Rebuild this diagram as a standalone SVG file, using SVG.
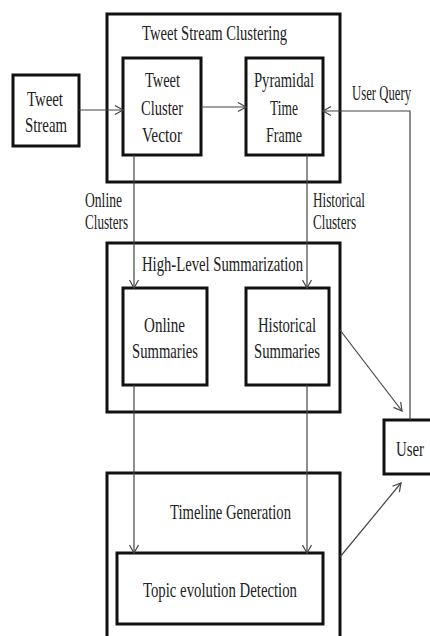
<svg xmlns="http://www.w3.org/2000/svg" width="430" height="636" viewBox="0 0 430 636">
<style>
.box{fill:none;stroke:#111;stroke-width:3}
.t{font-family:"Liberation Serif","Times New Roman",serif;font-size:21px;fill:#222}
.c{fill:none;stroke:#444;stroke-width:1.2}
</style>
<defs>
<marker id="ah" markerUnits="userSpaceOnUse" markerWidth="12" markerHeight="12" refX="9" refY="5" orient="auto" viewBox="0 0 12 10">
<path d="M1,0.5 L9,5 L1,9.5" fill="none" stroke="#444" stroke-width="1.2"/>
</marker>
</defs>
<rect width="430" height="636" fill="#fff"/>
<g id="tweet-stream-clustering">
<rect class="box" x="107" y="14" width="233" height="168"/>
<text class="t" x="142" y="40" textLength="145" lengthAdjust="spacingAndGlyphs">Tweet Stream Clustering</text>
</g>
<g id="tweet-stream">
<rect class="box" x="13" y="75" width="66" height="71"/>
<text class="t" x="27" y="106" textLength="36" lengthAdjust="spacingAndGlyphs">Tweet</text>
<text class="t" x="25" y="132" textLength="42" lengthAdjust="spacingAndGlyphs">Stream</text>
</g>
<g id="tweet-cluster-vector">
<rect class="box" x="123" y="58" width="78" height="97"/>
<text class="t" x="145" y="87" textLength="35" lengthAdjust="spacingAndGlyphs">Tweet</text>
<text class="t" x="141" y="115" textLength="42" lengthAdjust="spacingAndGlyphs">Cluster</text>
<text class="t" x="142" y="142" textLength="40" lengthAdjust="spacingAndGlyphs">Vector</text>
</g>
<g id="pyramidal-time-frame">
<rect class="box" x="246" y="58" width="77" height="97"/>
<text class="t" x="254" y="87" textLength="60" lengthAdjust="spacingAndGlyphs">Pyramidal</text>
<text class="t" x="270" y="115" textLength="28" lengthAdjust="spacingAndGlyphs">Time</text>
<text class="t" x="266" y="142" textLength="36" lengthAdjust="spacingAndGlyphs">Frame</text>
</g>
<g id="high-level-summarization">
<rect class="box" x="107" y="243" width="233" height="169"/>
<text class="t" x="142" y="271" textLength="161" lengthAdjust="spacingAndGlyphs">High-Level Summarization</text>
</g>
<g id="online-summaries">
<rect class="box" x="123" y="288" width="84" height="97"/>
<text class="t" x="144" y="332" textLength="41" lengthAdjust="spacingAndGlyphs">Online</text>
<text class="t" x="132" y="358" textLength="66" lengthAdjust="spacingAndGlyphs">Summaries</text>
</g>
<g id="historical-summaries">
<rect class="box" x="246" y="288" width="83" height="97"/>
<text class="t" x="258" y="332" textLength="58" lengthAdjust="spacingAndGlyphs">Historical</text>
<text class="t" x="254" y="358" textLength="66" lengthAdjust="spacingAndGlyphs">Summaries</text>
</g>
<g id="timeline-generation">
<rect class="box" x="107" y="473" width="233" height="175"/>
<text class="t" x="170" y="519" textLength="121" lengthAdjust="spacingAndGlyphs">Timeline Generation</text>
</g>
<g id="topic-evolution-detection">
<rect class="box" x="117" y="553" width="206" height="71"/>
<text class="t" x="143" y="597" textLength="154" lengthAdjust="spacingAndGlyphs">Topic evolution Detection</text>
</g>
<g id="user">
<rect class="box" x="384" y="420" width="60" height="54"/>
<text class="t" x="396" y="456" textLength="28" lengthAdjust="spacingAndGlyphs">User</text>
</g>
<g id="connectors">
<line class="c" x1="79" y1="110" x2="123" y2="110" marker-end="url(#ah)"/>
<line class="c" x1="201" y1="107" x2="246" y2="107" marker-end="url(#ah)"/>
<polyline class="c" points="410,420 410,111 323,111" marker-end="url(#ah)"/>
<line class="c" x1="134" y1="155" x2="134" y2="288" marker-end="url(#ah)"/>
<line class="c" x1="307" y1="155" x2="307" y2="288" marker-end="url(#ah)"/>
<line class="c" x1="134" y1="385" x2="134" y2="553" marker-end="url(#ah)"/>
<line class="c" x1="307" y1="385" x2="307" y2="553" marker-end="url(#ah)"/>
<line class="c" x1="340" y1="330" x2="402" y2="411" marker-end="url(#ah)"/>
<line class="c" x1="340" y1="557" x2="401" y2="483" marker-end="url(#ah)"/>
<text class="t" x="352" y="100" textLength="59" lengthAdjust="spacingAndGlyphs">User Query</text>
<text class="t" x="85" y="207" textLength="37" lengthAdjust="spacingAndGlyphs">Online</text>
<text class="t" x="85" y="229" textLength="43" lengthAdjust="spacingAndGlyphs">Clusters</text>
<text class="t" x="313" y="207" textLength="52" lengthAdjust="spacingAndGlyphs">Historical</text>
<text class="t" x="313" y="229" textLength="43" lengthAdjust="spacingAndGlyphs">Clusters</text>
</g>
</svg>
